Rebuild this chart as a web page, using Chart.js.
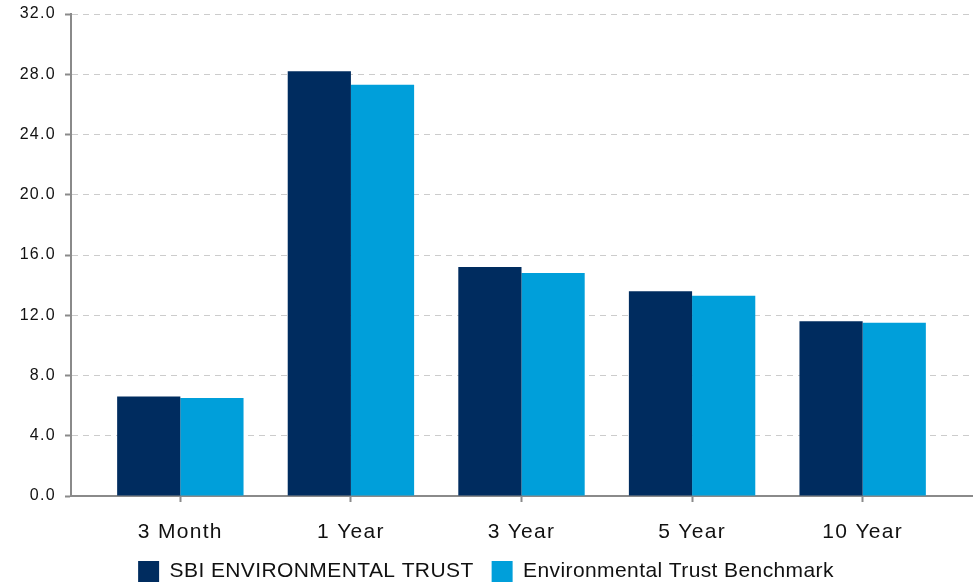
<!DOCTYPE html>
<html>
<head>
<meta charset="utf-8">
<script src="https://cdn.jsdelivr.net/npm/chart.js@4"></script>
<style>
  body { margin: 0; background: #fff; }
  #wrap { width: 977px; height: 585px; position: relative; }
</style>
</head>
<body>
<div id="wrap"><canvas id="perfChart"></canvas></div>
<script>
// Data
const categories = ['3 Month', '1 Year', '3 Year', '5 Year', '10 Year'];
const trustValues = [6.6, 28.2, 15.2, 13.6, 11.6];
const benchmarkValues = [6.5, 27.3, 14.8, 13.3, 11.5];
const seriesNames = ['SBI ENVIRONMENTAL TRUST', 'Environmental Trust Benchmark'];
const yTicks = [0, 4, 8, 12, 16, 20, 24, 28, 32];

const DARK = '#002c5f';
const LIGHT = '#009fda';
const AXIS = '#8a8a8a';
const FONT = 'Liberation Sans, Arial, sans-serif';

// text in the original is spaced a little wider than Arial;
// tick labels are drawn after the bars (ticks.z = 1), the legend before
const spacingPlugin = {
    id: 'spacing',
    beforeLayout(chart) { chart.ctx.letterSpacing = '0.4px'; },
    beforeDraw(chart) { chart.ctx.letterSpacing = '0.4px'; },
    afterDatasetsDraw(chart) { chart.ctx.letterSpacing = '1.3px'; },
    afterDraw(chart) { chart.ctx.letterSpacing = '0px'; }
};

const toPoints = vals => vals.map((v, i) => ({ x: i, y: v }));

new Chart(document.getElementById('perfChart'), {
    type: 'bar',
    data: {
        datasets: [
            { label: seriesNames[0], data: toPoints(trustValues), backgroundColor: DARK, borderWidth: 0 },
            { label: seriesNames[1], data: toPoints(benchmarkValues), backgroundColor: LIGHT, borderWidth: 0 }
        ]
    },
    options: {
        responsive: true,
        maintainAspectRatio: false,
        animation: false,
        layout: { padding: { top: 0, right: 5, left: 0, bottom: -7 } },
        datasets: { bar: { categoryPercentage: 0.741, barPercentage: 1 } },
        plugins: {
            tooltip: { enabled: false },
            legend: {
                position: 'bottom',
                labels: {
                    boxWidth: 21, boxHeight: 21, padding: 18,
                    color: '#111',
                    font: { family: FONT, size: 21 }
                }
            }
        },
        scales: {
            x: {
                type: 'linear',
                bounds: 'data',
                offset: false,
                min: -0.641,
                max: 4.641,
                afterBuildTicks: s => { s.ticks = categories.map((c, i) => ({ value: i })); },
                afterFit: s => { s.height = 47; },
                border: { color: AXIS, width: 2 },
                grid: { offset: false, drawOnChartArea: false, drawTicks: true, tickLength: 6, tickColor: AXIS, tickWidth: 2 },
                ticks: {
                    z: 1,
                    autoSkip: false, maxRotation: 0, padding: 18,
                    color: '#111',
                    font: { family: FONT, size: 21 },
                    callback: (v, i) => categories[i]
                }
            },
            y: {
                min: yTicks[0],
                max: yTicks[yTicks.length - 1],
                afterFit: s => { s.width = 71; s.paddingTop = 14; s.paddingBottom = 0; },
                afterBuildTicks: s => { s.ticks = yTicks.map(v => ({ value: v })); },
                border: { color: AXIS, width: 2, dash: [6, 5] },
                grid: {
                    color: '#cccccc', lineWidth: 1,
                    tickLength: 6, tickColor: AXIS, tickWidth: 2, tickBorderDash: []
                },
                ticks: {
                    z: 1,
                    padding: 9,
                    color: '#111',
                    font: { family: FONT, size: 16 },
                    callback: v => Number(v).toFixed(1)
                }
            }
        }
    },
    plugins: [spacingPlugin]
});
</script>
</body>
</html>
